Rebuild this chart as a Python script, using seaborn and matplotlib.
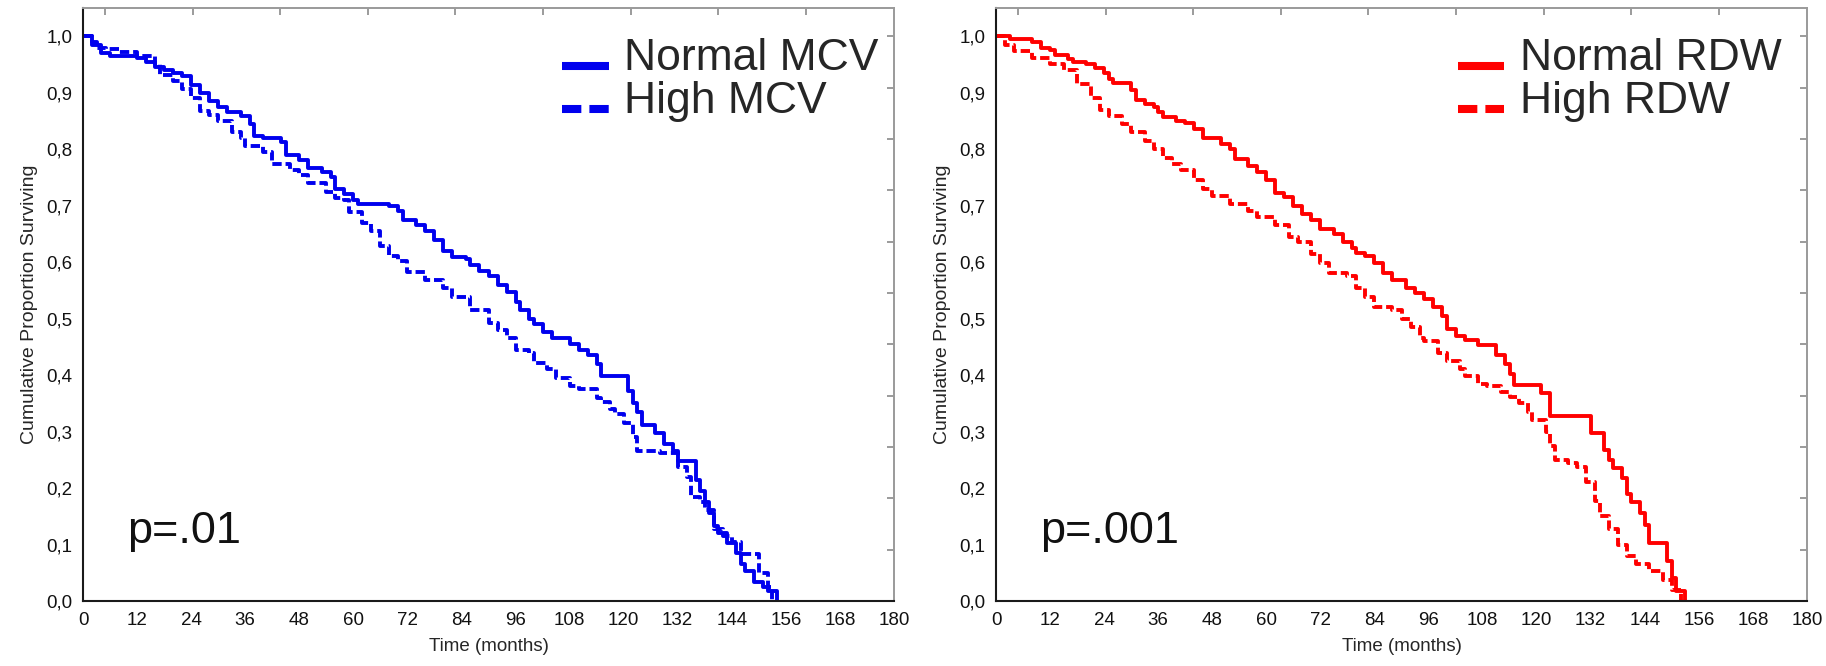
import matplotlib
matplotlib.use("Agg")
import numpy as np
import matplotlib.pyplot as plt
import seaborn as sns

# ---------------- data ----------------
mcv_normal_t = [0, 2, 4, 6, 12, 14, 16, 18, 20, 22, 24, 26, 28, 30, 32, 35, 37, 38, 40, 44,
                45, 48, 50, 53, 55, 56, 58, 60, 61, 68, 70, 71, 74, 76, 78, 80, 82, 85, 86, 88,
                90, 92, 94, 96, 97, 99, 100, 102, 104, 108, 110, 112, 114, 115, 121, 122, 123, 124, 127, 129,
                131, 132, 136, 137, 138, 139, 140, 141, 143, 145, 146, 147, 149, 151, 152, 154]
mcv_normal_s = [1.0, 0.985, 0.97, 0.965, 0.962, 0.955, 0.945, 0.94, 0.935, 0.93, 0.913, 0.90, 0.885, 0.875, 0.865, 0.859, 0.845, 0.823, 0.82, 0.812,
                0.789, 0.78, 0.767, 0.76, 0.75, 0.729, 0.72, 0.71, 0.703, 0.70, 0.69, 0.674, 0.665, 0.655, 0.64, 0.62, 0.609, 0.605, 0.595, 0.585,
                0.575, 0.56, 0.547, 0.53, 0.515, 0.50, 0.49, 0.477, 0.466, 0.455, 0.445, 0.436, 0.42, 0.398, 0.372, 0.35, 0.335, 0.312, 0.297, 0.278,
                0.266, 0.248, 0.214, 0.195, 0.175, 0.155, 0.132, 0.12, 0.103, 0.085, 0.065, 0.053, 0.034, 0.025, 0.017, 0.0]

mcv_high_t = [0, 2, 3, 5, 8, 12, 16, 17, 20, 22, 24, 26, 28, 30, 33, 35, 36, 40, 42, 46,
              48, 50, 54, 56, 58, 59, 62, 64, 66, 68, 70, 72, 76, 80, 82, 86, 90, 92, 94, 96,
              99, 100, 103, 105, 108, 110, 114, 115, 117, 118, 120, 122, 123, 128, 132, 134, 135, 137, 138, 140,
              142, 144, 146, 150, 152, 153]
mcv_high_s = [1.0, 0.99, 0.98, 0.978, 0.972, 0.965, 0.95, 0.932, 0.92, 0.906, 0.89, 0.868, 0.86, 0.85, 0.83, 0.82, 0.805, 0.795, 0.774, 0.763,
              0.755, 0.74, 0.725, 0.714, 0.71, 0.688, 0.669, 0.655, 0.628, 0.61, 0.602, 0.583, 0.568, 0.555, 0.538, 0.515, 0.492, 0.48, 0.465, 0.444,
              0.44, 0.421, 0.41, 0.395, 0.38, 0.376, 0.36, 0.353, 0.34, 0.331, 0.315, 0.29, 0.266, 0.262, 0.237, 0.22, 0.184, 0.175, 0.162, 0.128,
              0.115, 0.105, 0.083, 0.05, 0.025, 0.0]

rdw_normal_t = [0, 3, 8, 10, 12, 13, 16, 17, 20, 22, 24, 25, 26, 30, 31, 33, 35, 36, 37, 40,
                42, 44, 46, 50, 52, 53, 56, 58, 60, 62, 64, 66, 68, 70, 72, 75, 77, 79, 80, 82,
                84, 86, 88, 91, 93, 95, 97, 99, 100, 102, 104, 107, 111, 113, 114, 115, 121, 123, 132, 135,
                136, 137, 139, 140, 141, 143, 144, 145, 149, 150, 151, 153]
rdw_normal_s = [1.0, 0.995, 0.99, 0.98, 0.975, 0.966, 0.96, 0.955, 0.95, 0.944, 0.935, 0.925, 0.917, 0.905, 0.887, 0.88, 0.875, 0.865, 0.857, 0.85,
                0.846, 0.835, 0.82, 0.81, 0.80, 0.782, 0.771, 0.76, 0.745, 0.722, 0.715, 0.70, 0.685, 0.675, 0.658, 0.65, 0.635, 0.625, 0.617, 0.61,
                0.598, 0.58, 0.568, 0.555, 0.545, 0.534, 0.52, 0.505, 0.481, 0.47, 0.462, 0.453, 0.436, 0.42, 0.402, 0.383, 0.368, 0.327, 0.297, 0.267,
                0.25, 0.235, 0.218, 0.19, 0.175, 0.155, 0.135, 0.103, 0.071, 0.04, 0.017, 0.0]

rdw_high_t = [0, 2, 4, 8, 12, 15, 18, 21, 23, 25, 28, 30, 33, 35, 37, 39, 41, 44, 46, 48,
              52, 56, 58, 62, 65, 67, 70, 72, 74, 78, 80, 82, 84, 88, 90, 92, 94, 95, 98, 100,
              103, 104, 107, 109, 112, 114, 116, 118, 119, 122, 123, 124, 127, 129, 131, 133, 134, 136, 138, 140,
              142, 145, 148, 150, 152]
rdw_high_s = [1.0, 0.985, 0.974, 0.962, 0.95, 0.94, 0.915, 0.891, 0.87, 0.858, 0.845, 0.83, 0.815, 0.80, 0.785, 0.774, 0.763, 0.745, 0.729, 0.718,
              0.703, 0.69, 0.68, 0.665, 0.645, 0.635, 0.615, 0.598, 0.58, 0.575, 0.555, 0.538, 0.52, 0.515, 0.50, 0.485, 0.465, 0.46, 0.44, 0.425,
              0.41, 0.398, 0.385, 0.38, 0.37, 0.361, 0.35, 0.335, 0.32, 0.30, 0.275, 0.25, 0.245, 0.237, 0.21, 0.177, 0.15, 0.128, 0.10, 0.079,
              0.065, 0.053, 0.038, 0.02, 0.0]

series_labels_left = ["Normal MCV", "High MCV"]
series_labels_right = ["Normal RDW", "High RDW"]
p_values = ["p=.01", "p=.001"]
x_ticks = [0, 12, 24, 36, 48, 60, 72, 84, 96, 108, 120, 132, 144, 156, 168, 180]
y_ticks = [0.0, 0.1, 0.2, 0.3, 0.4, 0.5, 0.6, 0.7, 0.8, 0.9, 1.0]
y_tick_labels = ["0,0", "0,1", "0,2", "0,3", "0,4", "0,5", "0,6", "0,7", "0,8", "0,9", "1,0"]
x_label = "Time (months)"
y_label = "Cumulative Proportion Surviving"

# ---------------- style ----------------
sns.set_style("white")
plt.rcParams["font.family"] = ["Liberation Sans", "DejaVu Sans"]

W, H = 1826, 666
fig = plt.figure(figsize=(W / 100, H / 100), dpi=100)

panels = [
    dict(left=83, color="#0000ee", normal=(mcv_normal_t, mcv_normal_s), high=(mcv_high_t, mcv_high_s),
         labels=series_labels_left, p=p_values[0], leg_x=0.591),
    dict(left=996, color="#ff0000", normal=(rdw_normal_t, rdw_normal_s), high=(rdw_high_t, rdw_high_s),
         labels=series_labels_right, p=p_values[1], leg_x=0.570),
]

top_tick_pos = [4.9 + 19.44 * k for k in range(9)]
right_tick_pos = [k / 11 for k in range(12)]

for pn in panels:
    ax = fig.add_axes([pn["left"] / W, 65 / H, 811 / W, 593 / H])
    sns.lineplot(x=pn["normal"][0], y=pn["normal"][1], ax=ax, drawstyle="steps-post",
                 color=pn["color"], linewidth=2.8, label=pn["labels"][0],
                 estimator=None, sort=False)
    sns.lineplot(x=pn["high"][0], y=pn["high"][1], ax=ax, drawstyle="steps-post",
                 color=pn["color"], linewidth=2.8, label=pn["labels"][1],
                 linestyle=(0, (2.4, 1.0)), estimator=None, sort=False)

    ax.set_xlim(0, 180)
    ax.set_ylim(0, 1.05)
    ax.set_xticks(x_ticks)
    ax.set_xticklabels([str(v) for v in x_ticks])
    ax.set_yticks(y_ticks)
    ax.set_yticklabels(y_tick_labels)
    ax.tick_params(direction="in", length=5, width=1.2, color="#222222",
                   labelsize=13.5, labelcolor="#111111")
    ax.tick_params(axis="x", pad=8.2)
    ax.tick_params(axis="y", pad=7.4)
    ax.set_xlabel(x_label, fontsize=13.5, labelpad=6.5)
    ax.set_ylabel(y_label, fontsize=14, labelpad=6)

    for s in ["left", "bottom"]:
        ax.spines[s].set_color("#1a1a1a")
        ax.spines[s].set_linewidth(1.5)
    for s in ["top", "right"]:
        ax.spines[s].set_color("#9a9a9a")
        ax.spines[s].set_linewidth(1.4)

    top = ax.secondary_xaxis("top")
    top.set_xticks(top_tick_pos, labels=[""] * len(top_tick_pos))
    top.tick_params(direction="in", length=5, width=1.2, color="#8a8a8a")
    top.spines["top"].set_visible(False)
    right = ax.secondary_yaxis("right")
    right.set_yticks(right_tick_pos, labels=[""] * len(right_tick_pos))
    right.tick_params(direction="in", length=5, width=1.2, color="#8a8a8a")
    right.spines["right"].set_visible(False)

    leg = ax.legend(loc="upper left", bbox_to_anchor=(pn["leg_x"], 0.95),
                    borderaxespad=0, borderpad=0, frameon=False, fontsize=32,
                    handlelength=1.04, handletextpad=0.34, labelspacing=0.05)
    for ln in leg.get_lines():
        ln.set_linewidth(5.8)
        ln.set_solid_capstyle("butt")
        ln.set_dash_capstyle("butt")
        # sit the legend keys near the text baseline, as in the reference
        ln.set_ydata(np.asarray(ln.get_ydata(), dtype=float) - 8.3)

    ax.text(0.054, 0.098, pn["p"], transform=ax.transAxes, fontsize=32.5,
            ha="left", va="baseline", color="#111111")

fig.savefig("out.png", dpi=100)
